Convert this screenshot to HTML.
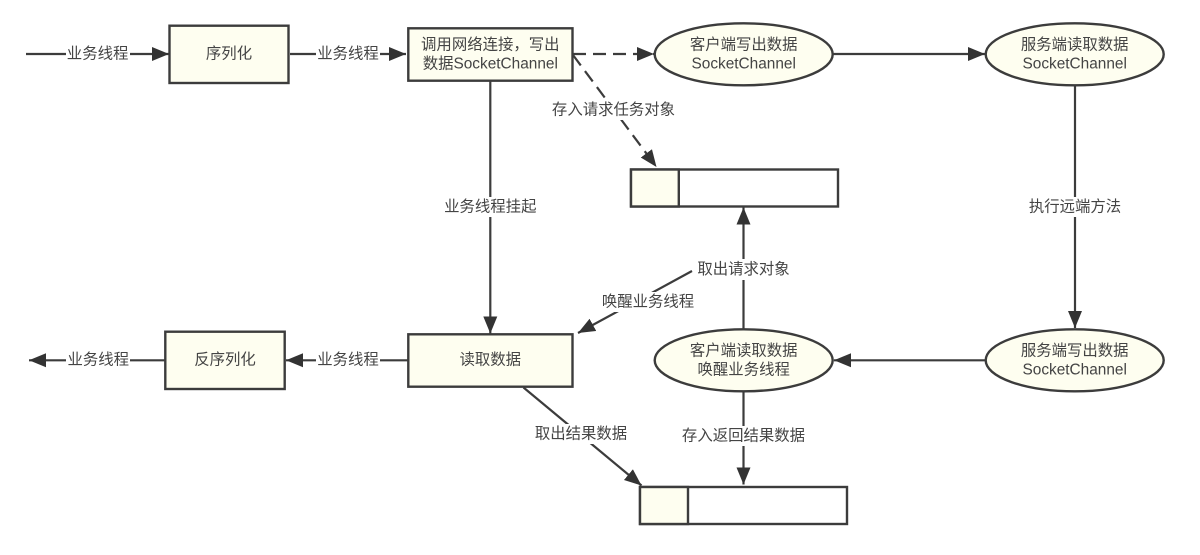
<!DOCTYPE html>
<html>
<head>
<meta charset="utf-8">
<style>
html,body{margin:0;padding:0;background:#fff;width:1200px;height:555px;overflow:hidden}
svg{display:block;filter:blur(0.35px)}
text{font-family:"Liberation Sans","Noto Sans CJK SC",sans-serif;font-size:15.4px;fill:#444;text-anchor:middle;dominant-baseline:central}
.l{fill:none;stroke:#3c3c3c;stroke-width:2.2}
.d{stroke-dasharray:13 7}
.n{fill:#fefef0;stroke:#3c3c3c;stroke-width:2.4}
.w{fill:#fff;stroke:#3c3c3c;stroke-width:2.4}
.b{fill:#fff;stroke:none}
</style>
</head>
<body>
<svg width="1200" height="555" viewBox="0 0 1200 555" xmlns="http://www.w3.org/2000/svg">
<defs>
<marker id="a" markerUnits="userSpaceOnUse" markerWidth="20" markerHeight="16" refX="17" refY="7" orient="auto">
<path d="M0 0L17 7L0 14Z" fill="#333"/>
</marker>
</defs>

<!-- connectors -->
<path class="l" d="M26 54H169" marker-end="url(#a)"/>
<path class="l" d="M290 54H406" marker-end="url(#a)"/>
<path class="l d" d="M573 54H654" marker-end="url(#a)"/>
<path class="l d" d="M573 55L656.5 167" marker-end="url(#a)"/>
<path class="l" d="M833 54H985" marker-end="url(#a)"/>
<path class="l" d="M490.3 81V333.5" marker-end="url(#a)"/>
<path class="l" d="M1075 86V328" marker-end="url(#a)"/>
<path class="l" d="M743.5 329V207.5" marker-end="url(#a)"/>
<path class="l" d="M692 271L578 333" marker-end="url(#a)"/>
<path class="l" d="M985 360.3H834" marker-end="url(#a)"/>
<path class="l" d="M743.5 392V484.5" marker-end="url(#a)"/>
<path class="l" d="M523.5 387.5L641.5 485.5" marker-end="url(#a)"/>
<path class="l" d="M408 360.3H286" marker-end="url(#a)"/>
<path class="l" d="M165 360.3H29" marker-end="url(#a)"/>

<!-- nodes -->
<rect class="n" x="169.5" y="25.7" width="119" height="57.3"/>
<rect class="n" x="408.3" y="28.3" width="164.2" height="52.4"/>
<ellipse class="n" cx="743.7" cy="54.3" rx="89" ry="31"/>
<ellipse class="n" cx="1074.7" cy="54.3" rx="89" ry="31"/>
<rect class="n" x="165.3" y="331.7" width="119.4" height="57.3"/>
<rect class="n" x="408.3" y="334.3" width="164.2" height="52.4"/>
<ellipse class="n" cx="743.7" cy="360.3" rx="89" ry="31"/>
<ellipse class="n" cx="1074.7" cy="360.3" rx="89" ry="31"/>

<rect class="w" x="631" y="169.5" width="207" height="37"/>
<rect class="n" x="631" y="169.5" width="47.8" height="37"/>
<rect class="w" x="640" y="487" width="207" height="37"/>
<rect class="n" x="640" y="487" width="48" height="37"/>

<!-- label backgrounds -->
<rect class="b" x="66" y="44" width="64" height="20"/>
<rect class="b" x="316" y="44" width="64" height="20"/>
<rect class="b" x="443" y="197" width="94" height="20"/>
<rect class="b" x="550" y="100" width="127" height="20"/>
<rect class="b" x="1028" y="197" width="94" height="20"/>
<rect class="b" x="696" y="259" width="96" height="21"/>
<rect class="b" x="587" y="292" width="125" height="20"/>
<rect class="b" x="66" y="350" width="64" height="20"/>
<rect class="b" x="316" y="350" width="64" height="20"/>
<rect class="b" x="534" y="424" width="95" height="20"/>
<rect class="b" x="681" y="426" width="125" height="20"/>

<!-- labels -->
<text x="97.6" y="54">业务线程</text>
<text x="348" y="54">业务线程</text>
<text x="229" y="54">序列化</text>
<text x="490.3" y="45">调用网络连接，写出</text>
<text x="490.3" y="64">数据SocketChannel</text>
<text x="743.7" y="45">客户端写出数据</text>
<text x="743.7" y="64">SocketChannel</text>
<text x="1074.7" y="45">服务端读取数据</text>
<text x="1074.7" y="64">SocketChannel</text>
<text x="613.5" y="110">存入请求任务对象</text>
<text x="490.3" y="207">业务线程挂起</text>
<text x="1075" y="207">执行远端方法</text>
<text x="743.5" y="269.5">取出请求对象</text>
<text x="648" y="302">唤醒业务线程</text>
<text x="98.3" y="360">业务线程</text>
<text x="225" y="360">反序列化</text>
<text x="348" y="360">业务线程</text>
<text x="490.3" y="360">读取数据</text>
<text x="743.7" y="351">客户端读取数据</text>
<text x="743.7" y="370">唤醒业务线程</text>
<text x="1074.7" y="351">服务端写出数据</text>
<text x="1074.7" y="370">SocketChannel</text>
<text x="581" y="434">取出结果数据</text>
<text x="743.5" y="436">存入返回结果数据</text>
</svg>
</body>
</html>
